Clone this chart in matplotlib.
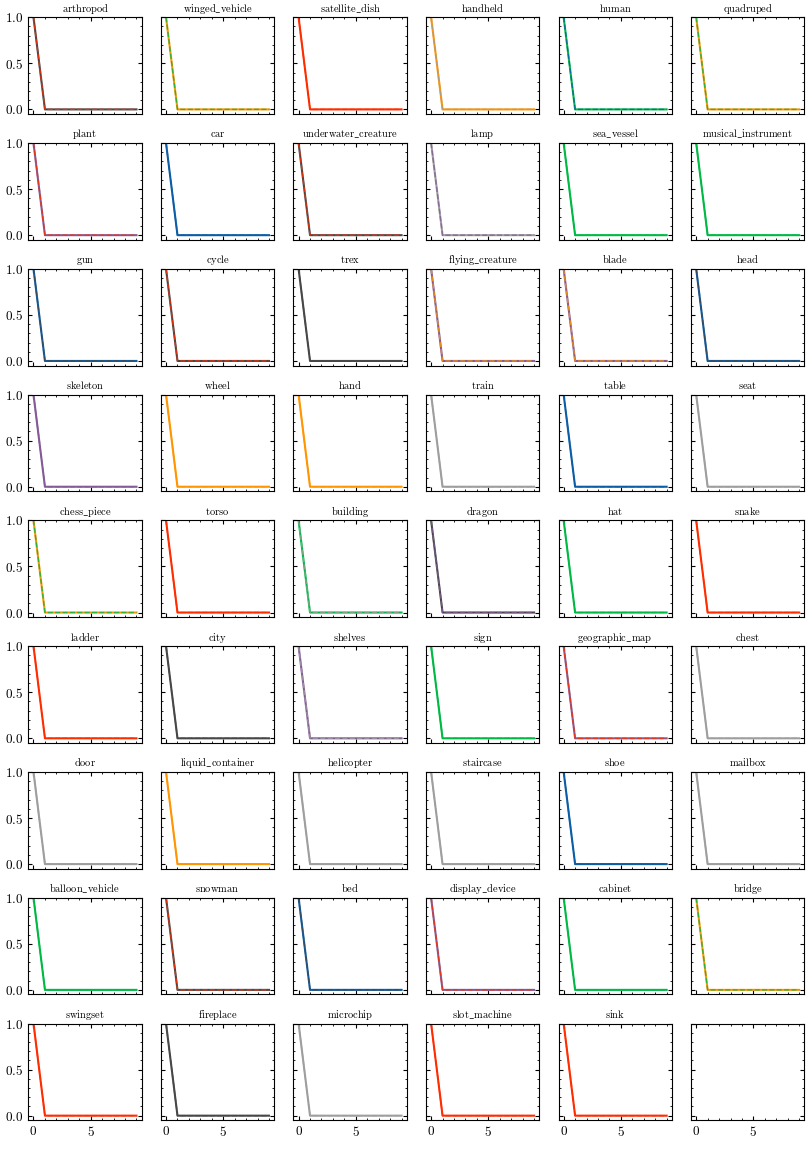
import matplotlib
matplotlib.use("Agg")
import matplotlib.pyplot as plt
import numpy as np
from matplotlib.ticker import AutoMinorLocator

plt.rcParams['font.family'] = ['cmr10', 'DejaVu Serif']
plt.rcParams['axes.formatter.use_mathtext'] = True
plt.rcParams['mathtext.fontset'] = 'cm'

names = ["arthropod","winged_vehicle","satellite_dish","handheld","human","quadruped",
"plant","car","underwater_creature","lamp","sea_vessel","musical_instrument",
"gun","cycle","trex","flying_creature","blade","head",
"skeleton","wheel","hand","train","table","seat",
"chess_piece","torso","building","dragon","hat","snake",
"ladder","city","shelves","sign","geographic_map","chest",
"door","liquid_container","helicopter","staircase","shoe","mailbox",
"balloon_vehicle","snowman","bed","display_device","cabinet","bridge",
"swingset","fireplace","microchip","slot_machine","sink"]
B,G,O,R,P,D,Y='#0C5DA5','#00B945','#FF9500','#FF2C00','#845B97','#474747','#9e9e9e'
colors = [(D,R),(O,G),(R,R),(O,Y),(G,B),(O,G),
(P,R),(B,B),(D,R),(Y,P),(G,G),(G,G),
(B,D),(D,R),(D,D),(P,O),(P,O),(B,D),
(P,P),(O,O),(O,O),(Y,Y),(B,B),(Y,Y),
(O,G),(R,R),(G,Y),(D,P),(G,G),(R,R),
(R,R),(D,D),(P,Y),(G,G),(P,R),(Y,Y),
(Y,Y),(O,O),(Y,Y),(Y,Y),(B,B),(Y,Y),
(G,G),(D,R),(B,D),(P,R),(G,G),(O,G),
(R,R),(D,D),(Y,Y),(R,R),(R,R)]
steps = list(range(10))
values = [1,0,0,0,0,0,0,0,0,0]

fig, axes = plt.subplots(9, 6, figsize=(8.1, 11.49), dpi=100, sharex=True, sharey=True)
for i, ax in enumerate(axes.flat):
    ax.tick_params(which='both', direction='in', top=True, right=True, labelsize=9.5)
    ax.tick_params(which='major', length=3)
    ax.tick_params(which='minor', length=1.5)
    ax.xaxis.set_minor_locator(AutoMinorLocator(5))
    ax.yaxis.set_minor_locator(AutoMinorLocator(5))
    if i < len(names):
        c1, c2 = colors[i]
        ax.plot(steps, values, color=c1, lw=1.5)
        ax.plot(steps, values, color=c2, lw=1.0, ls='--', alpha=0.8)
        ax.set_title(r'$\mathrm{' + names[i].replace('_', r'\_') + '}$', fontsize=7.5, pad=4)
ax = axes.flat[0]
ax.set_xlim(-0.45, 9.45)
ax.set_ylim(-0.05, 1.0)
ax.set_xticks([0, 5])
ax.set_yticks([0.0, 0.5, 1.0])
fig.subplots_adjust(left=0.035, right=0.993, top=0.985, bottom=0.025, wspace=0.17, hspace=0.3)
fig.savefig("out.png")
